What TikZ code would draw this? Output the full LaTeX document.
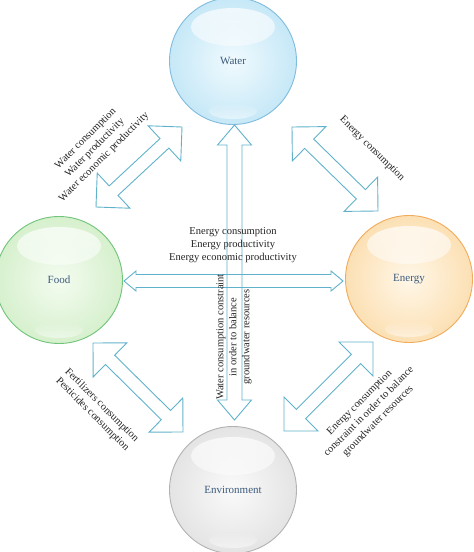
\documentclass[tikz,border=0pt]{standalone}
\usepackage{fontspec}
\setmainfont{Liberation Serif}
\usetikzlibrary{calc,fadings}
\definecolor{arrowcol}{RGB}{95,178,202}
\definecolor{labelcol}{RGB}{58,90,124}
\definecolor{textcol}{RGB}{35,35,35}
\definecolor{waterin}{RGB}{240,250,254}
\definecolor{waterout}{RGB}{198,232,247}
\definecolor{waterbd}{RGB}{128,188,222}
\definecolor{foodin}{RGB}{244,252,240}
\definecolor{foodout}{RGB}{214,240,205}
\definecolor{foodbd}{RGB}{112,196,122}
\definecolor{energyin}{RGB}{255,247,232}
\definecolor{energyout}{RGB}{252,224,180}
\definecolor{energybd}{RGB}{240,172,92}
\definecolor{envin}{RGB}{250,250,250}
\definecolor{envout}{RGB}{228,228,228}
\definecolor{envbd}{RGB}{178,178,178}
\newcommand\blockarr[5]{%
  \path let \p1=(#1), \p2=(#2) in \pgfextra{%
    \pgfmathsetmacro\arLtmp{veclen(\x2-\x1,\y2-\y1)}\xdef\arL{\arLtmp}%
    \pgfmathsetmacro\arAtmp{atan2(\y2-\y1,\x2-\x1)}\xdef\arA{\arAtmp}};
  \draw[blockarrow, shift={(#1)}, rotate=\arA] (0,0) -- (#3,#4) -- (#3,#5)
    -- ({\arL-#3},#5) -- ({\arL-#3},#4) -- (\arL,0) -- ({\arL-#3},-#4)
    -- ({\arL-#3},-#5) -- (#3,-#5) -- (#3,-#4) -- cycle;
}
\begin{document}
\begin{tikzpicture}[x=1pt,y=-1pt,
  lbl/.style={font=\fontsize{10.5}{13}\selectfont, text=textcol, align=center, inner sep=0pt},
  blockarrow/.style={draw=arrowcol, line width=0.9pt, line join=miter},
  ball/.style n args={3}{circle, minimum size=127pt, inner sep=0pt, draw=#3, line width=0.9pt,
    inner color=#1, outer color=#2, text=labelcol, font=\fontsize{11}{13}\selectfont,
    path picture={
      \fill[white, opacity=0.75, path fading=south] ([yshift=34pt]path picture bounding box.center) ellipse [x radius=42pt, y radius=19pt];
      \fill[white, opacity=0.5, path fading=north] ([yshift=-50pt]path picture bounding box.center) ellipse [x radius=24pt, y radius=8pt];
    }}]
\useasboundingbox (0,0) rectangle (474,552);
\clip (0,0) rectangle (474,552);

% circles
\node[ball={waterin}{waterout}{waterbd}] (water) at (233,61) {Water};
\node[ball={foodin}{foodout}{foodbd}] (food) at (59,280) {Food};
\node[ball={energyin}{energyout}{energybd}] (energy) at (409,279) {Energy};
\node[ball={envin}{envout}{envbd}] (env) at (233,490) {Environment};

% arrow tips
\coordinate (v1) at (234.5,125);
\coordinate (v2) at (234.5,420);
\coordinate (h1) at (124,281);
\coordinate (h2) at (343,281);
\coordinate (nw1) at (96,207);
\coordinate (nw2) at (182,127);
\coordinate (ne1) at (292,127);
\coordinate (ne2) at (378,211);
\coordinate (sw1) at (93,343);
\coordinate (sw2) at (183,432);
\coordinate (se1) at (373,342);
\coordinate (se2) at (284,431);

\blockarr{v1}{v2}{20}{17}{7.5}
\blockarr{h1}{h2}{12}{10}{6.5}
\blockarr{nw1}{nw2}{24}{24}{6.5}
\blockarr{ne1}{ne2}{24}{24}{6.5}
\blockarr{sw1}{sw2}{24}{24}{6.5}
\blockarr{se1}{se2}{24}{24}{6.5}

% labels
\node[lbl, rotate=45] (tnw) at (95,148) {Water consumption\\Water productivity\\Water economic productivity};
\node[lbl, rotate=-45] (tne) at (372,149) {Energy consumption};
\node[lbl] (tc) at (233,245) {Energy consumption\\Energy productivity\\Energy economic productivity};
\node[lbl, rotate=90] (tv) at (234,337) {Water consumption constraint\\in order to balance\\groundwater resources};
\node[lbl, rotate=-45] (tsw) at (97,410) {Fertilizers consumption\\Pesticides consumption};
\node[lbl, rotate=45] (tse) at (369,412) {Energy consumption\\constraint in order to balance\\groundwater resources};
\end{tikzpicture}
\end{document}
